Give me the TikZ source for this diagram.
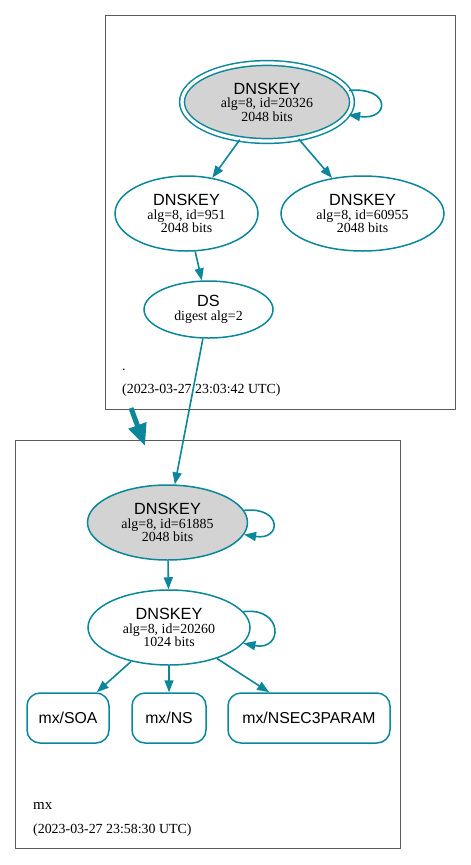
\documentclass[tikz,border=0pt]{standalone}
\usepackage{fontspec}
\setmainfont{Liberation Serif}
\newfontfamily\hv{Liberation Sans}
\usetikzlibrary{arrows.meta,shapes.geometric}
\definecolor{keyteal}{HTML}{0A879A}
\definecolor{keygray}{HTML}{D3D3D3}
\definecolor{zonegray}{HTML}{5A5A5A}
\newcommand{\keylbl}[3]{{\hv\fontsize{16.2}{13.5}\selectfont #1}\\#2\\#3}

\begin{document}
\begin{tikzpicture}[x=1pt,y=-1pt,
  font=\fontsize{13.9}{13.5}\selectfont,
  zone/.style={draw=zonegray,line width=0.9pt,inner sep=0pt,anchor=north west},
  key/.style={ellipse,draw=keyteal,line width=1.5pt,inner sep=0pt,align=center},
  rrset/.style={draw=keyteal,line width=1.5pt,rounded corners=13pt,minimum height=50pt,
                inner sep=0pt,font=\hv\fontsize{15.8}{18}\selectfont},
  edge/.style={draw=keyteal,line width=1.6pt,-{Triangle[length=12pt,width=9pt]}},
  zonelbl/.style={anchor=west,inner sep=0pt}]
  \useasboundingbox (0,0) rectangle (471,865);

  % zones
  \node[zone,minimum width=350,minimum height=394] (root) at (105,15) {};
  \node[zone,minimum width=385,minimum height=408] (mx) at (15,440) {};

  % root zone
  \node[key,fill=keygray,double=white,double distance=3.3pt,
        minimum width=170,minimum height=78] (rootksk) at (267,102)
        {\keylbl{DNSKEY}{alg=8, id=20326}{2048 bits}};
  \node[key,minimum width=143,minimum height=75] (rootk951) at (186.5,213.5)
        {\keylbl{DNSKEY}{alg=8, id=951}{2048 bits}};
  \node[key,minimum width=163,minimum height=75] (rootk60955) at (362.5,213.5)
        {\keylbl{DNSKEY}{alg=8, id=60955}{2048 bits}};
  \node[key,minimum width=129,minimum height=57] (rootds) at (208.5,309.5)
        {{\hv\fontsize{16.2}{13.5}\selectfont DS}\\digest alg=2};
  \node[zonelbl] (rootlbl) at (122,370) {.};
  \node[zonelbl] (rootdate) at (122,390) {(2023-03-27 23:03:42 UTC)};

  % mx zone
  \node[key,fill=keygray,minimum width=160,minimum height=75] (mxksk) at (167.5,522.5)
        {\keylbl{DNSKEY}{alg=8, id=61885}{2048 bits}};
  \node[key,minimum width=162,minimum height=75] (mxzsk) at (169,627.5)
        {\keylbl{DNSKEY}{alg=8, id=20260}{1024 bits}};
  \node[rrset,minimum width=82] (mxsoa) at (68,718) {mx/SOA};
  \node[rrset,minimum width=74] (mxns) at (169,718) {mx/NS};
  \node[rrset,minimum width=162] (mxnsec3) at (309,718) {mx/NSEC3PARAM};
  \node[zonelbl,font=\fontsize{15}{15}\selectfont] (mxlbl) at (33,806) {mx};
  \node[zonelbl] (mxdate) at (33,830) {(2023-03-27 23:58:30 UTC)};

  % delegation
  \coordinate (dlgtail) at (131,408);
  \coordinate (dlghead) at (145,446);
  \draw[keyteal,line width=5pt,-{Triangle[length=22pt,width=18pt]}] (dlgtail) -- (dlghead);

  \draw[edge] (rootksk.8) .. controls +(42,-4) and +(42,6) .. (rootksk.-9);
  \draw[edge] (rootksk) -- (rootk951);
  \draw[edge] (rootksk) -- (rootk60955);
  \draw[edge] (rootk951) -- (rootds);
  \draw[edge] (rootds) -- (mxksk);
  \draw[edge] (mxksk.9) .. controls +(38,-4) and +(38,6) .. (mxksk.-9);
  \draw[edge] (mxksk) -- (mxzsk);
  \draw[edge] (mxzsk.12) .. controls +(40,-5) and +(40,8) .. (mxzsk.-12);
  \draw[edge] (mxzsk) -- (mxsoa);
  \draw[edge] (mxzsk) -- (mxns);
  \draw[edge] (mxzsk) -- (mxnsec3);
\end{tikzpicture}
\end{document}
